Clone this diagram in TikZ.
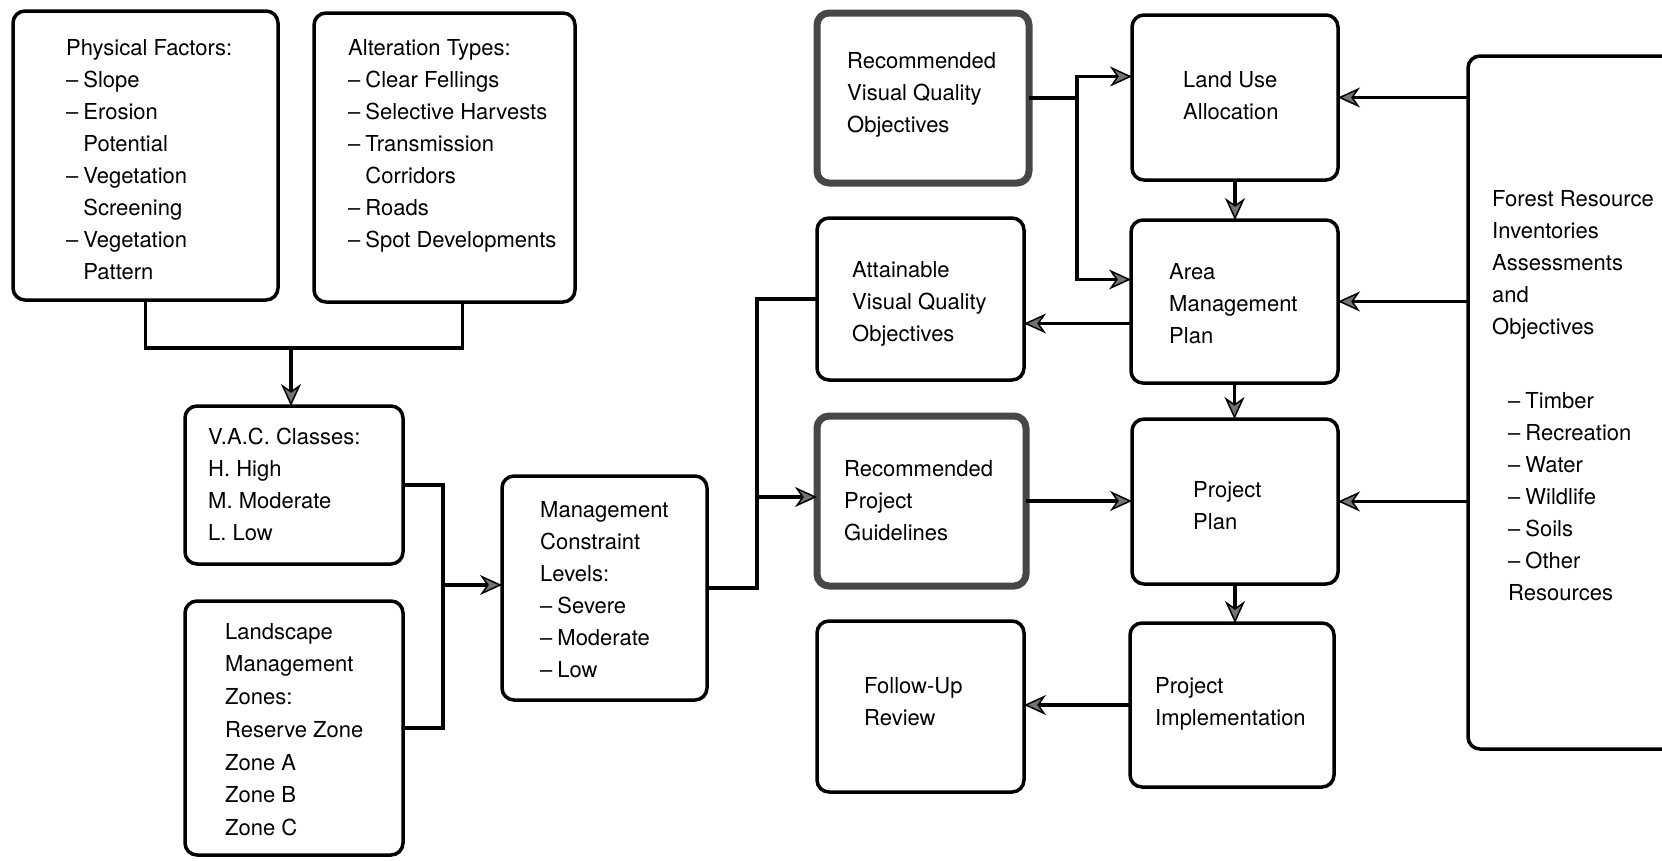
\documentclass[tikz,border=0pt]{standalone}
\usepackage{fontspec}
\setmainfont{TeX Gyre Heros}
\usetikzlibrary{arrows.meta,calc}
\newcommand\dd{\textendash\hspace{5pt}}
\newcommand\ind{\hphantom{\textendash\hspace{5pt}}}
\begin{document}
\begin{tikzpicture}[x=1pt,y=-1pt,
 box/.style={draw, line width=3.5pt, rounded corners=12pt, inner sep=0pt, outer sep=0pt, anchor=north west},
 heavy/.style={box, line width=7pt, draw=black!72},
 txt/.style={anchor=north west, inner sep=0pt, align=left, font=\fontsize{22}{32}\selectfont},
 conn/.style={line width=3.5pt},
 arr/.style={line width=3.5pt, -{Stealth[length=22pt,width=20pt,inset=7pt,fill=black!55,line width=1.5pt]}},
]
\useasboundingbox (0,0) rectangle (1662,860);
\clip (0,0) rectangle (1662,860);
% boxes
\node[box, minimum width=265pt, minimum height=289pt] (pf) at (13,11) {};
\node[box, minimum width=261pt, minimum height=289pt] (at) at (314,13) {};
\node[box, minimum width=218pt, minimum height=158pt] (vac) at (185,406) {};
\node[box, minimum width=218pt, minimum height=254pt] (lmz) at (185,601) {};
\node[box, minimum width=205pt, minimum height=224pt] (mcl) at (502,476) {};
\node[heavy, minimum width=212pt, minimum height=170pt] (rvqo) at (817,13) {};
\node[box, minimum width=206pt, minimum height=165pt] (lua) at (1132,15) {};
\node[box, minimum width=207pt, minimum height=162pt] (avqo) at (817,218) {};
\node[box, minimum width=207pt, minimum height=163pt] (amp) at (1131,220) {};
\node[heavy, minimum width=209pt, minimum height=170pt] (rpg) at (817,416) {};
\node[box, minimum width=206pt, minimum height=165pt] (pp) at (1132,419) {};
\node[box, minimum width=207pt, minimum height=171pt] (fur) at (817,621) {};
\node[box, minimum width=204pt, minimum height=164pt] (pi) at (1130,623) {};
\node[box, minimum width=250pt, minimum height=693pt] (fr) at (1468,56) {};
% texts
\node[txt] (pf-t) at (66,39) {Physical Factors:\\ \dd Slope\\ \dd Erosion\\ \ind Potential\\ \dd Vegetation\\ \ind Screening\\ \dd Vegetation\\ \ind Pattern};
\node[txt] (at-t) at (348,39) {Alteration Types:\\ \dd Clear Fellings\\ \dd Selective Harvests\\ \dd Transmission\\ \ind Corridors\\ \dd Roads\\ \dd Spot Developments};
\node[txt] (vac-t) at (208,428) {V.A.C. Classes:\\ H. High\\ M. Moderate\\ L. Low};
\node[txt, font=\fontsize{22}{32.7}\selectfont] (lmz-t) at (225,623) {Landscape\\ Management\\ Zones:\\ Reserve Zone\\ Zone A\\ Zone B\\ Zone C};
\node[txt] (mcl-t) at (540,501) {Management\\ Constraint\\ Levels:\\ \dd Severe\\ \dd Moderate\\ \dd Low};
\node[txt] (rvqo-t) at (847,52) {Recommended\\ Visual Quality\\ Objectives};
\node[txt] (lua-t) at (1183,71) {Land Use\\ Allocation};
\node[txt] (avqo-t) at (852,261) {Attainable\\ Visual Quality\\ Objectives};
\node[txt] (amp-t) at (1169,263) {Area\\ Management\\ Plan};
\node[txt] (rpg-t) at (844,460) {Recommended\\ Project\\ Guidelines};
\node[txt] (pp-t) at (1193,481) {Project\\ Plan};
\node[txt] (fur-t) at (864,677) {Follow-Up\\ Review};
\node[txt] (pi-t) at (1155,677) {Project\\ Implementation};
\node[txt] (fr-t) at (1492,190) {Forest Resource\\ Inventories\\ Assessments\\ and\\ Objectives};
\node[txt] (fr-l) at (1508,392) {\dd Timber\\ \dd Recreation\\ \dd Water\\ \dd Wildlife\\ \dd Soils\\ \dd Other\\ Resources};
% connectors
\coordinate (j1) at (291,348);
\draw[conn] (pf.south) |- (j1) -| ([xshift=18pt]at.south);
\draw[arr] (j1) -- (j1 |- vac.north);
\coordinate (j2) at (443,585);
\draw[conn] (vac.east) -| (j2) |- (lmz.east);
\draw[arr] (j2) -- (j2 -| mcl.west);
\coordinate (j3) at (757,497);
\draw[conn] (mcl.east) -| (j3) |- (avqo.west);
\draw[arr] (j3) -- (j3 -| rpg.west);
\draw[conn] (rvqo.east) -- ++(48,0) coordinate (j4);
\draw[arr] (j4) |- ([yshift=21pt]lua.west);
\draw[arr] (j4) |- ([yshift=22pt]amp.west);
\draw[arr] (lua.south) -- (lua.south |- amp.north);
\draw[arr] ([yshift=-22pt]amp.west) -- ([yshift=-22pt]amp.west -| avqo.east);
\draw[arr] (amp.south) -- (amp.south |- pp.north);
\draw[arr] (rpg.east) -- (rpg.east -| pp.west);
\draw[arr] (pp.south) -- (pp.south |- pi.north);
\draw[arr] (pi.west) -- (pi.west -| fur.east);
\draw[arr] (lua.east -| fr.west) -- (lua.east);
\draw[arr] (amp.east -| fr.west) -- (amp.east);
\draw[arr] (pp.east -| fr.west) -- (pp.east);
\end{tikzpicture}
\end{document}
